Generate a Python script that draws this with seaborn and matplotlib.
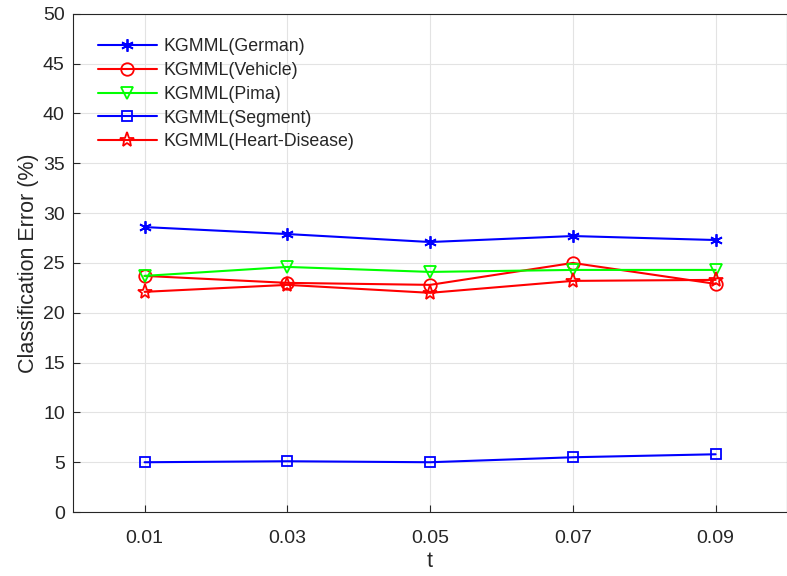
import numpy as np
import pandas as pd
import matplotlib as mpl
mpl.use("Agg")
import matplotlib.pyplot as plt
import seaborn as sns

# Data
# --------------
t_values = [0.01, 0.03, 0.05, 0.07, 0.09]
german = [28.6, 27.9, 27.1, 27.7, 27.3]
vehicle = [23.7, 23.0, 22.8, 25.0, 22.9]
pima = [23.7, 24.6, 24.1, 24.3, 24.3]
segment = [5.0, 5.1, 5.0, 5.5, 5.8]
heart = [22.1, 22.8, 22.0, 23.2, 23.3]

series = [
    ("KGMML(German)", german, "#0000ff", (6, 2, 0), 9),
    ("KGMML(Vehicle)", vehicle, "#ff0000", "o", 9),
    ("KGMML(Pima)", pima, "#00ff00", "v", 9),
    ("KGMML(Segment)", segment, "#0000ff", "s", 7.5),
    ("KGMML(Heart-Disease)", heart, "#ff0000", "*", 11),
]

# Set-up
# --------------
sns.set_theme(style="whitegrid")
plt.rcParams["font.family"] = ["Liberation Sans", "DejaVu Sans"]

fig, ax = plt.subplots(figsize=(7.87, 5.76), dpi=100)
fig.subplots_adjust(left=0.093, right=1.0, top=0.976, bottom=0.111)

for label, values, color, marker, msize in series:
    df = pd.DataFrame({"t": t_values, "err": values})
    filled = marker == (6, 2, 0)
    sns.lineplot(data=df, x="t", y="err", ax=ax, label=label, color=color,
                 marker=marker, markersize=msize,
                 markerfacecolor=color if filled else "none",
                 markeredgecolor=color, markeredgewidth=1.3, linewidth=1.5)

ax.set_xlim(0, 0.1)
ax.set_ylim(0, 50)
ax.set_xticks(t_values)
ax.set_xticklabels(["0.01", "0.03", "0.05", "0.07", "0.09"])
ax.set_yticks(np.arange(0, 51, 5))
ax.set_xlabel("t", fontsize=15.5, labelpad=3)
ax.set_ylabel("Classification Error (%)", fontsize=15.5, labelpad=3)
ax.tick_params(labelsize=14, direction="in", length=5, width=0.8,
               colors="#262626", left=True, bottom=True)
ax.tick_params(axis="x", pad=13)
ax.tick_params(axis="y", pad=6)
ax.grid(True, color="#e3e3e3", linewidth=0.8)
for s in ax.spines.values():
    s.set_color("#262626")
    s.set_linewidth(0.8)

ax.legend(loc="upper left", frameon=False, fontsize=12.8, handlelength=3.3,
          labelspacing=0.38, borderaxespad=0.0, handletextpad=0.35,
          bbox_to_anchor=(0.025, 0.965))

fig.savefig("out.png", dpi=100)
